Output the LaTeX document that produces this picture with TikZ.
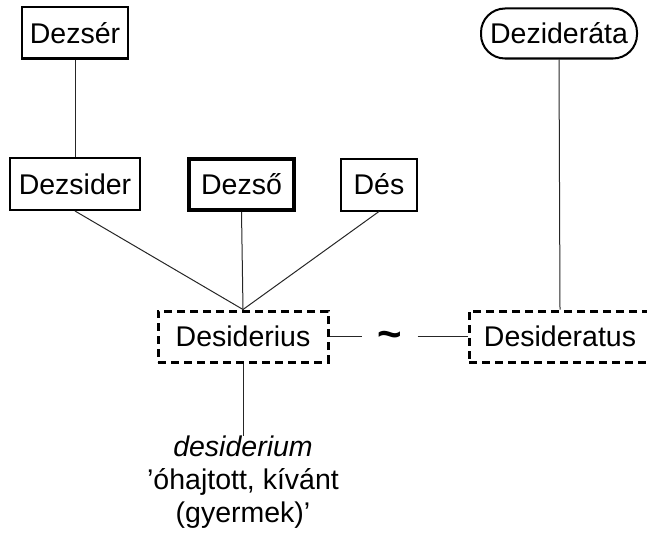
\documentclass[tikz,border=0pt]{standalone}
\usepackage{fontspec}
\setmainfont{Liberation Sans}
\begin{document}
\begin{tikzpicture}[x=1pt,y=-1pt,
  every node/.style={font=\fontsize{28.5}{33}\selectfont, inner sep=0pt, text=black},
  wbox/.style={draw, line width=2pt, rectangle},
  thickbox/.style={draw, line width=3.6pt, rectangle},
  dbox/.style={draw, line width=3pt, dash pattern=on 8pt off 5pt, rectangle},
  rbox/.style={draw, line width=2pt, rectangle, rounded corners=24pt},
  link/.style={line width=1pt, draw=black!85}]
\useasboundingbox (0,0) rectangle (647,535);
\node[wbox, minimum width=106pt, minimum height=51pt] (dezser) at (75,33) {Dezsér};
\node[wbox, minimum width=130pt, minimum height=52pt] (dezsider) at (75,184) {Dezsider};
\node[thickbox, minimum width=105pt, minimum height=51pt] (dezso) at (241.5,184.5) {Dezső};
\node[wbox, minimum width=76pt, minimum height=52pt] (des) at (379,184.5) {Dés};
\node[rbox, minimum width=156pt, minimum height=50pt] (dezid) at (559,33.5) {Dezideráta};
\node[dbox, minimum width=170pt, minimum height=51pt] (desius) at (243,336.5) {Desiderius};
\node[dbox, minimum width=182pt, minimum height=51pt] (desatus) at (560,336.5) {Desideratus};
\node[font=\fontsize{42}{42}\selectfont\bfseries, minimum width=55pt] (tilde) at (390,340) {\char`\~};
\node[align=center, anchor=north] (gloss) at (243,436) {\textit{desiderium}\\’óhajtott, kívánt\\(gyermek)’};
\draw[link] (dezser.south) -- (dezsider.north);
\draw[link] (dezsider.south) -- (desius.north);
\draw[link] (dezso.south) -- (desius.north);
\draw[link] (des.south) -- (desius.north);
\draw[link] (dezid.south) -- (desatus.north);
\draw[link] (desius.east) -- (tilde.west |- desius.east);
\draw[link] (tilde.east |- desatus.west) -- (desatus.west);
\draw[link] (desius.south) -- (gloss.north);
\end{tikzpicture}
\end{document}
